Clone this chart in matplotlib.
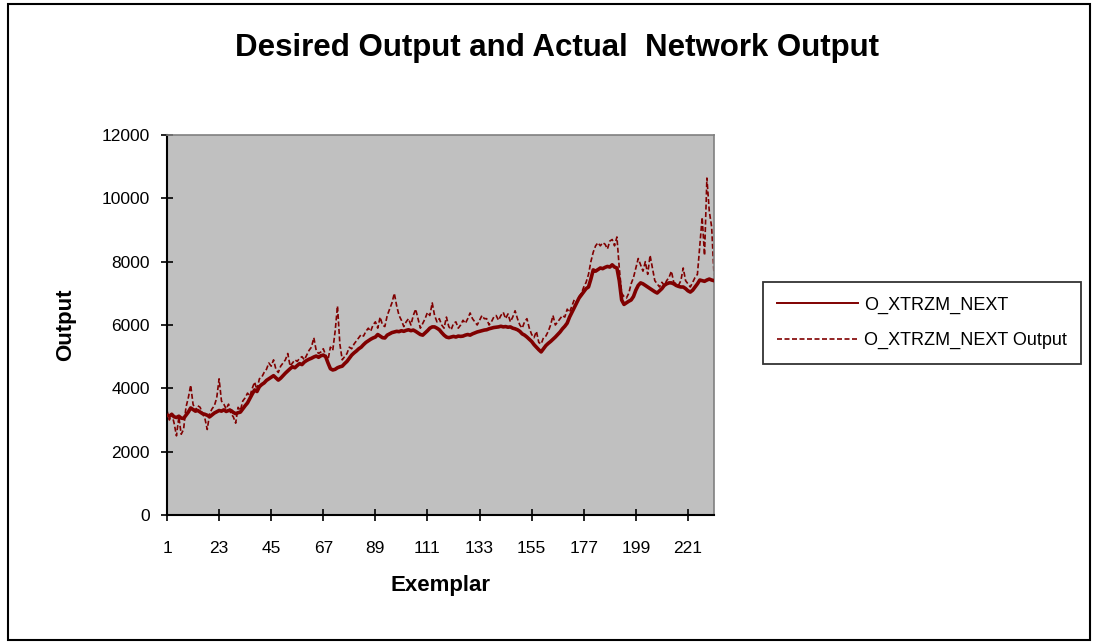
import numpy as np
import matplotlib
matplotlib.use("Agg")
import matplotlib.pyplot as plt
from matplotlib.patches import Rectangle

plt.rcParams["font.family"] = ["Liberation Sans", "DejaVu Sans"]

# desired output (solid) per exemplar
desired = [
    3150, 3120, 3180, 3100, 3080, 3120, 3060, 3050, 3150, 3250,
    3380, 3330, 3280, 3300, 3250, 3200, 3180, 3150, 3100, 3160,
    3220, 3260, 3300, 3280, 3320, 3270, 3300, 3300, 3240, 3200,
    3230, 3250, 3350, 3450, 3540, 3680, 3820, 3950, 3900, 4050,
    4120, 4170, 4250, 4300, 4350, 4400, 4330, 4260, 4320, 4400,
    4480, 4550, 4620, 4680, 4650, 4720, 4780, 4750, 4830, 4880,
    4920, 4950, 4990, 5020, 4980, 5030, 5050, 5000, 4800, 4620,
    4580, 4600, 4650, 4680, 4700, 4780, 4850, 4950, 5050, 5120,
    5180, 5250, 5300, 5380, 5450, 5500, 5550, 5590, 5620, 5700,
    5650, 5600, 5590, 5680, 5720, 5760, 5780, 5800, 5790, 5820,
    5800, 5830, 5850, 5820, 5840, 5800, 5750, 5700, 5680, 5750,
    5820, 5900, 5940, 5940, 5900, 5850, 5760, 5680, 5620, 5600,
    5620, 5640, 5620, 5650, 5640, 5650, 5680, 5700, 5680, 5720,
    5750, 5780, 5800, 5820, 5840, 5850, 5880, 5900, 5920, 5930,
    5940, 5960, 5940, 5950, 5930, 5940, 5900, 5880, 5850, 5800,
    5720, 5680, 5620, 5550, 5480, 5380, 5300, 5220, 5150, 5250,
    5350, 5420, 5480, 5550, 5620, 5700, 5780, 5880, 5960, 6060,
    6250, 6400, 6550, 6700, 6850, 6950, 7050, 7150, 7200, 7450,
    7740, 7700, 7750, 7800, 7780, 7820, 7850, 7830, 7900, 7830,
    7800, 7400, 6790, 6650, 6700, 6750, 6790, 6900, 7100, 7250,
    7330, 7300, 7250, 7200, 7150, 7100, 7050, 7010, 7080, 7150,
    7250, 7300, 7330, 7330, 7300, 7250, 7220, 7200, 7200, 7150,
    7080, 7040, 7100, 7200, 7300, 7420, 7400, 7380, 7420, 7450,
    7420, 7400,
]

# network output (dashed)
network = [
    3300, 3000, 3200, 2900, 2500, 3100, 2550, 2700, 3400, 3700,
    4100, 3500, 3300, 3450, 3400, 3200, 3050, 2700, 3200, 3350,
    3450, 3700, 4300, 3600, 3500, 3350, 3500, 3200, 3100, 2900,
    3400, 3300, 3600, 3700, 3850, 3750, 4000, 4200, 3950, 4300,
    4350, 4500, 4600, 4800, 4700, 4900, 4600, 4500, 4700, 4800,
    4900, 5100, 4700, 4800, 4900, 4850, 4950, 5000, 4900, 5050,
    5200, 5300, 5600, 5200, 5100, 5150, 5250, 5050, 4900, 5300,
    5200, 5800, 6600, 5400, 4900, 5000, 5100, 5300, 5250, 5400,
    5500, 5600, 5700, 5650, 5800, 5900, 5800, 6000, 6100, 5900,
    6250, 6000, 5950, 6300, 6500, 6700, 7000, 6600, 6300, 6150,
    5950, 6100, 6200, 6000, 6300, 6500, 6200, 5900, 6050, 6200,
    6400, 6300, 6700, 6300, 6100, 6200, 6000, 5900, 6250, 5950,
    5850, 6050, 6100, 5900, 6000, 6150, 6050, 6200, 6380, 6200,
    6100, 6000, 6150, 6300, 6200, 6200, 6000, 6100, 6250, 6300,
    6150, 6300, 6400, 6200, 6350, 6100, 6250, 6450, 6200, 6000,
    5900, 6100, 6200, 5900, 5700, 5600, 5800, 5450, 5400, 5600,
    5650, 5800, 6000, 6300, 6000, 6100, 6200, 6300, 6250, 6500,
    6400, 6600, 6800, 6700, 6900, 7000, 7200, 7350, 7600, 8000,
    8300, 8500, 8600, 8500, 8600, 8550, 8400, 8650, 8700, 8500,
    8780, 7800, 7000, 6900, 6850, 7000, 7300, 7500, 7800, 8100,
    7900, 7700, 8000, 7600, 8200, 7800, 7400, 7300, 7200, 7350,
    7250, 7400, 7500, 7700, 7350, 7300, 7250, 7400, 7800, 7400,
    7300, 7200, 7350, 7500, 7600, 8500, 9400, 8200, 10640, 9600,
    9100, 7600,
]

xticks = [1, 23, 45, 67, 89, 111, 133, 155, 177, 199, 221]
yticks = [0, 2000, 4000, 6000, 8000, 10000, 12000]

exemplar = np.arange(1, len(desired) + 1)
red = "#800000"

W, H = 1094, 642
fig = plt.figure(figsize=(W / 100, H / 100), dpi=100)
fig.patches.append(Rectangle((8 / W, 2 / H), 1082 / W, 636 / H, transform=fig.transFigure,
                             fill=False, edgecolor="black", lw=1.5))

ax = fig.add_axes([167 / W, 1 - 515 / H, (714 - 167) / W, (515 - 135) / H])
ax.set_facecolor("#C0C0C0")
ax.plot(exemplar, desired, color=red, lw=2.6, label="O_XTRZM_NEXT", zorder=3)
ax.plot(exemplar, network, color=red, lw=1.2, ls=(0, (3, 1.5)),
        label="O_XTRZM_NEXT Output", zorder=2)

ax.set_xlim(1, len(desired))
ax.set_ylim(0, 12000)
ax.set_xticks(xticks)
ax.set_yticks(yticks)
ax.tick_params(direction="inout", length=9, width=1.2, labelsize=12.5)
ax.tick_params(axis="x", pad=14)
ax.tick_params(axis="y", pad=8)
for s in ["left", "bottom"]:
    ax.spines[s].set_linewidth(1.5)
    ax.spines[s].set_color("black")
for s in ["top", "right"]:
    ax.spines[s].set_color("#808080")
    ax.spines[s].set_linewidth(1.2)

ax.set_xlabel("Exemplar", fontsize=16, fontweight="bold", labelpad=14)
ax.set_ylabel("Output", fontsize=16, fontweight="bold", labelpad=18)
fig.text(557 / W, 1 - 48 / H, "Desired Output and Actual  Network Output",
         ha="center", va="center", fontsize=22.5, fontweight="bold")

leg = fig.legend(loc="center", bbox_to_anchor=(922 / W, 1 - 323 / H), fontsize=13,
                 frameon=True, fancybox=False, handlelength=4.5, borderpad=0.8,
                 labelspacing=1.0, handletextpad=0.3)
leg.get_frame().set_edgecolor("black")
leg.get_frame().set_linewidth(1.3)
leg.legend_handles[0].set_linewidth(1.4)

fig.savefig("out.png", dpi=100)
